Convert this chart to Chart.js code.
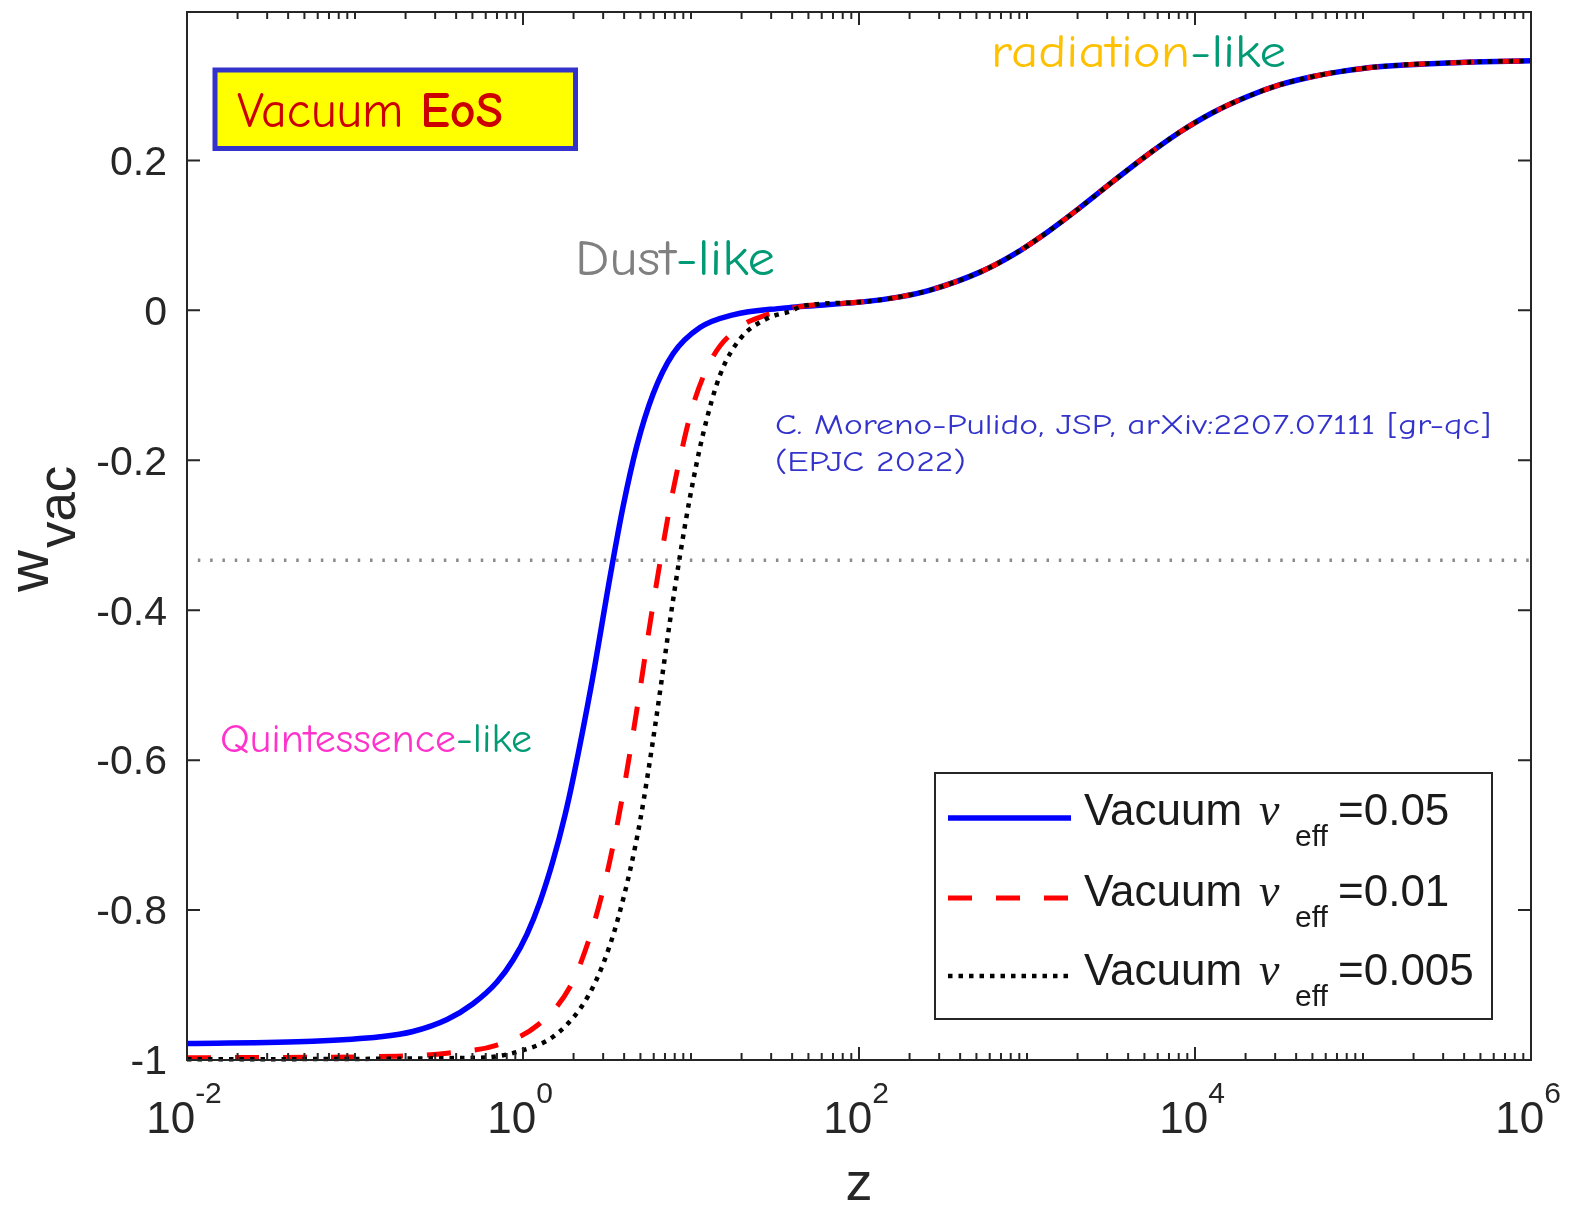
<!DOCTYPE html>
<html><head><meta charset="utf-8">
<script src="https://cdn.jsdelivr.net/npm/chart.js@4.4.1/dist/chart.umd.min.js"></script>
<style>html,body{margin:0;padding:0;background:#fff;}canvas{display:block;}</style>
</head><body>
<canvas id="c" width="1571" height="1209" style="width:1571px;height:1209px"></canvas>
<script>
// ---- data ----
const Z_BLUE = [0.01, 0.056, 0.141, 0.221, 0.353, 0.504, 0.70, 0.871, 1.057, 1.262, 1.51, 1.78, 1.99, 2.58, 3.30, 3.94, 4.77, 5.94, 7.82, 11.3, 17.8, 35.3];
const W_BLUE = [-0.978, -0.975, -0.969, -0.962, -0.946, -0.925, -0.896, -0.867, -0.832, -0.789, -0.734, -0.673, -0.624, -0.494, -0.355, -0.262, -0.180, -0.112, -0.058, -0.023, -0.006, 0.003];
const Z_RED = [0.01, 0.178, 0.353, 0.70, 1.23, 1.91, 2.44, 2.99, 3.43, 3.94, 4.45, 4.97, 5.54, 6.11, 6.72, 7.50, 8.60, 10.3, 13.5, 19.6, 25.8];
const W_RED = [-0.997, -0.995, -0.991, -0.980, -0.953, -0.902, -0.843, -0.774, -0.715, -0.644, -0.574, -0.506, -0.436, -0.376, -0.321, -0.261, -0.197, -0.126, -0.062, -0.022, -0.009];
const Z_BLACK = [0.01, 0.555, 1.0, 1.51, 2.18, 2.75, 3.30, 3.68, 4.33, 4.97, 5.54, 6.11, 6.72, 7.50, 8.60, 9.87, 11.8, 14.9, 19.6, 28.3, 40.4];
const W_BLACK = [-0.999, -0.997, -0.987, -0.969, -0.932, -0.892, -0.846, -0.811, -0.748, -0.682, -0.618, -0.555, -0.490, -0.414, -0.327, -0.249, -0.165, -0.086, -0.038, -0.011, 0.000];
// common high-z part shared by the three curves
const Z_TAIL = [44.6, 101, 175, 265, 525, 826, 1315, 2066, 3250, 5180, 8140, 12800, 20400, 32100, 50400, 72900, 123000, 410000, 1000000];
const W_TAIL = [0.005, 0.011, 0.018, 0.027, 0.051, 0.074, 0.104, 0.137, 0.172, 0.207, 0.238, 0.264, 0.285, 0.301, 0.312, 0.3185, 0.325, 0.331, 0.333];
// horizontal reference line w = -1/3
const Z_HLINE = [0.0116, 1000000];
const W_HLINE = [-1/3, -1/3];

const NU_VALUES = ['0.05', '0.01', '0.005'];
const Y_TICKS = [-1, -0.8, -0.6, -0.4, -0.2, 0, 0.2];
const Y_LABELS = ['-1', '-0.8', '-0.6', '-0.4', '-0.2', '0', '0.2'];
const X_MAJOR = [0.01, 1, 100, 10000, 1000000];
const X_EXP = ['-2', '0', '2', '4', '6'];

function pts(zs, ws) { return zs.map((z, i) => ({x: z, y: ws[i]})); }

const GREEN = '#009a74';
const AXC = '#262626';
const SANS = '"Liberation Sans", Arial, Helvetica, sans-serif';
const ANNOT = '"Comic Sans MS", "Comic Neue", "Noto Sans", sans-serif';

const STYLES = [
  {color: '#0000ff', width: 5.5, dash: []},
  {color: '#ff0000', width: 5, dash: [24, 24]},
  {color: '#000000', width: 4.5, dash: [4.5, 6]}
];

// draw coloured text runs at a given font size, squeezed/stretched horizontally to a target width
function runs(ctx, parts, x, y, size, targetW) {
  let tot = 0;
  parts.forEach(p => { ctx.font = (p.b ? 'bold ' : '') + size + 'px ' + ANNOT; tot += ctx.measureText(p.t).width; });
  let sx = targetW / tot; sx = Math.max(0.7, Math.min(1.35, sx));
  ctx.save();
  ctx.translate(x, y); ctx.scale(sx, 1);
  ctx.textAlign = 'left'; ctx.textBaseline = 'alphabetic';
  let cx = 0;
  parts.forEach(p => {
    ctx.font = (p.b ? 'bold ' : '') + size + 'px ' + ANNOT;
    ctx.fillStyle = p.c;
    ctx.fillText(p.t, cx, 0);
    cx += ctx.measureText(p.t).width;
  });
  ctx.restore();
  return sx;
}

const decor = {
  id: 'decor',
  afterDatasetsDraw(chart) {
    const ctx = chart.ctx, ca = chart.chartArea, xs = chart.scales.x, ys = chart.scales.y;
    ctx.save();
    // frame
    ctx.strokeStyle = AXC; ctx.lineWidth = 2; ctx.setLineDash([]);
    ctx.strokeRect(ca.left, ca.top, ca.right - ca.left, ca.bottom - ca.top);
    // y ticks
    ctx.beginPath();
    Y_TICKS.forEach(v => {
      const py = ys.getPixelForValue(v);
      ctx.moveTo(ca.left, py); ctx.lineTo(ca.left + 13, py);
      ctx.moveTo(ca.right, py); ctx.lineTo(ca.right - 13, py);
    });
    // x ticks (log, minor at 2..9)
    for (let e = -2; e <= 6; e++) {
      for (let k = 1; k <= 9; k++) {
        const v = k * Math.pow(10, e);
        if (v > 1000000 * 1.0001) break;
        const px = xs.getPixelForValue(v);
        const len = (k === 1 && e % 2 === 0) ? 13 : 7;
        ctx.moveTo(px, ca.bottom); ctx.lineTo(px, ca.bottom - len);
        ctx.moveTo(px, ca.top); ctx.lineTo(px, ca.top + len);
      }
    }
    ctx.stroke();
    // y tick labels
    ctx.fillStyle = AXC;
    ctx.font = '41px ' + SANS; ctx.textAlign = 'right'; ctx.textBaseline = 'middle';
    Y_TICKS.forEach((v, i) => ctx.fillText(Y_LABELS[i], 167, ys.getPixelForValue(v) + 3));
    // x tick labels 10^n
    ctx.textAlign = 'left'; ctx.textBaseline = 'alphabetic';
    X_MAJOR.forEach((v, i) => {
      const px = xs.getPixelForValue(v);
      ctx.font = '44px ' + SANS; const w1 = ctx.measureText('10').width;
      ctx.font = '30px ' + SANS; const w2 = ctx.measureText(X_EXP[i]).width;
      const x0 = px - (w1 + w2) / 2 - 3;
      ctx.font = '44px ' + SANS; ctx.fillText('10', x0, 1133);
      ctx.font = '30px ' + SANS; ctx.fillText(X_EXP[i], x0 + w1, 1103);
    });
    // axis titles
    ctx.font = '54px ' + SANS; ctx.textAlign = 'center';
    ctx.fillText('z', (ca.left + ca.right) / 2, 1200);
    ctx.save();
    ctx.translate(48, 592); ctx.rotate(-Math.PI / 2);
    ctx.textAlign = 'left';
    ctx.font = '58px ' + SANS; ctx.fillText('w', 0, 0);
    const ww = ctx.measureText('w').width;
    ctx.font = '53px ' + SANS; ctx.fillText('vac', ww + 2, 27);
    ctx.restore();

    // "Vacuum EoS" box
    ctx.fillStyle = '#ffff00'; ctx.fillRect(215, 70, 360.5, 78.5);
    ctx.strokeStyle = '#3333cc'; ctx.lineWidth = 5; ctx.strokeRect(215, 70, 360.5, 78.5);
    runs(ctx, [{t: 'Vacuum ', c: '#cc0000'}, {t: 'EoS', c: '#cc0000', b: true}], 237, 127, 50, 266);
    // regime annotations
    runs(ctx, [{t: 'radiation', c: '#ffc000'}, {t: '-like', c: GREEN}], 991, 67, 47, 295);
    runs(ctx, [{t: 'Dust', c: '#808080'}, {t: '-like', c: GREEN}], 575, 275, 50, 200);
    runs(ctx, [{t: 'Quintessence', c: '#ff33cc'}, {t: '-like', c: GREEN}], 220, 752, 40, 312);
    const sx = runs(ctx, [{t: 'C. Moreno-Pulido, JSP, arXiv:2207.07111 [gr-qc]', c: '#3333cc'}], 775, 434, 28, 716);
    ctx.save();
    ctx.translate(775, 471); ctx.scale(sx, 1);
    ctx.font = '28px ' + ANNOT; ctx.fillStyle = '#3333cc'; ctx.textAlign = 'left';
    ctx.fillText('(EPJC 2022)', 0, 0);
    ctx.restore();

    // legend
    ctx.fillStyle = '#ffffff'; ctx.fillRect(935, 773, 557, 246);
    ctx.strokeStyle = AXC; ctx.lineWidth = 2; ctx.setLineDash([]);
    ctx.strokeRect(935, 773, 557, 246);
    const lineY = [818, 898, 976], baseY = [825, 906, 985];
    NU_VALUES.forEach((val, i) => {
      const st = STYLES[i];
      ctx.save();
      ctx.strokeStyle = st.color; ctx.lineWidth = st.width; ctx.setLineDash(st.dash); ctx.lineCap = 'butt';
      ctx.beginPath(); ctx.moveTo(948, lineY[i]); ctx.lineTo(1071, lineY[i]); ctx.stroke();
      ctx.restore();
      ctx.fillStyle = '#1a1a1a'; ctx.textAlign = 'left'; ctx.textBaseline = 'alphabetic';
      ctx.font = '44px ' + SANS; ctx.fillText('Vacuum', 1084, baseY[i]);
      ctx.font = 'italic 46px "Liberation Serif", "Times New Roman", serif'; ctx.fillText('\u03BD', 1259, baseY[i]);
      ctx.font = '30px ' + SANS; ctx.fillText('eff', 1295, baseY[i] + 21);
      ctx.font = '44px ' + SANS; ctx.fillText('=' + val, 1338, baseY[i]);
    });
    ctx.restore();
  }
};

const ds = (label, zs, ws, st, order) => ({
  label, data: pts(zs, ws), borderColor: st.color, borderWidth: st.width, borderDash: st.dash,
  borderCapStyle: 'butt', pointRadius: 0, pointHoverRadius: 0, fill: false,
  cubicInterpolationMode: 'monotone', order, clip: 8
});

new Chart(document.getElementById('c'), {
  type: 'line',
  data: {
    datasets: [
      {label: 'w=-1/3', data: pts(Z_HLINE, W_HLINE), borderColor: '#8a8a8a', borderWidth: 3.5,
       borderDash: [2.5, 9.8], pointRadius: 0, fill: false, order: 4},
      ds('Vacuum \u03BD_eff=' + NU_VALUES[0], Z_BLUE.concat(Z_TAIL), W_BLUE.concat(W_TAIL), STYLES[0], 3),
      ds('Vacuum \u03BD_eff=' + NU_VALUES[1], Z_RED.concat(Z_TAIL), W_RED.concat(W_TAIL), STYLES[1], 2),
      ds('Vacuum \u03BD_eff=' + NU_VALUES[2], Z_BLACK.concat(Z_TAIL), W_BLACK.concat(W_TAIL), STYLES[2], 1)
    ]
  },
  options: {
    responsive: false, devicePixelRatio: 1, animation: false,
    layout: {padding: {top: 12, right: 40, left: 0, bottom: 0}},
    plugins: {legend: {display: false}, tooltip: {enabled: false}},
    events: [],
    scales: {
      x: {type: 'logarithmic', min: 0.01, max: 1000000,
          grid: {display: false}, border: {display: false}, ticks: {display: false},
          afterFit: s => { s.height = 149; }},
      y: {type: 'linear', min: -1, max: 0.398,
          grid: {display: false}, border: {display: false}, ticks: {display: false},
          afterFit: s => { s.width = 187; }}
    }
  },
  plugins: [decor]
});
</script></body></html>
